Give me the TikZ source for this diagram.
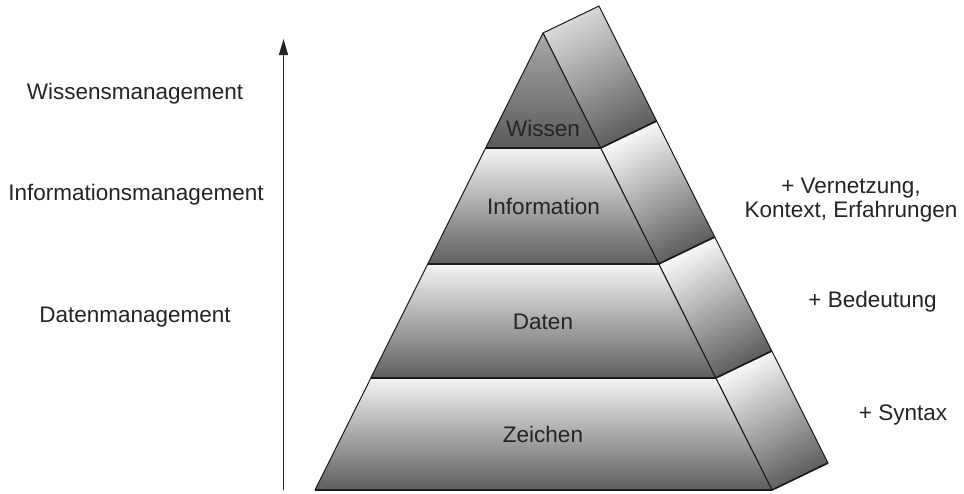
\documentclass[tikz,border=0pt]{standalone}
\usepackage{fontspec}
\setmainfont{Liberation Sans}
\usetikzlibrary{arrows.meta,calc}

\definecolor{ink}{HTML}{242424}
\definecolor{edge}{HTML}{1A1A1A}
\definecolor{facelight}{HTML}{F4F4F4}
\definecolor{facedark}{HTML}{5E5E5E}
\definecolor{tiplight}{HTML}{A8A8A8}
\definecolor{tipdark}{HTML}{5A5A5A}
\definecolor{sidelight}{HTML}{FAFAFA}
\definecolor{sidedark}{HTML}{5C5C5C}
\definecolor{sidetiplight}{HTML}{DADADA}

\tikzset{
  label/.style={font=\fontsize{22.5}{24.5}\selectfont, text=ink, inner sep=0pt, anchor=base},
  band/.style={top color=facelight, bottom color=facedark, draw=edge, line width=1pt, line join=round},
  tipband/.style={top color=tiplight, bottom color=tipdark, draw=edge, line width=1pt, line join=round},
  side/.style={top color=sidelight, bottom color=sidedark, shading angle=28, draw=edge, line width=1pt, line join=round},
  tipside/.style={top color=sidetiplight, bottom color=sidedark, shading angle=28, draw=edge, line width=1pt, line join=round},
  ledge/.style={draw=edge, line width=2.4pt},
  sedge/.style={draw=edge, line width=1.6pt},
  axis/.style={draw=ink, line width=1.4pt, -{Triangle[length=16pt,width=9pt]}},
}

\begin{document}
\begin{tikzpicture}[x=1pt, y=-1pt]
  \useasboundingbox (0,0) rectangle (964,493);

  % front face corners, level by level
  \coordinate (A0) at (543,33);
  \coordinate (L1) at (485.6,148);  \coordinate (R1) at (600.6,148);
  \coordinate (L2) at (427.7,264);  \coordinate (R2) at (658.7,264);
  \coordinate (L3) at (370.8,378);  \coordinate (R3) at (715.8,378);
  \coordinate (L4) at (315,490);    \coordinate (R4) at (772,490);

  % back edge of the side face
  \coordinate (B0) at ($(A0)+(56,-27)$);
  \coordinate (B1) at ($(R1)+(56,-27)$);
  \coordinate (B2) at ($(R2)+(56,-27)$);
  \coordinate (B3) at ($(R3)+(56,-27)$);
  \coordinate (B4) at ($(R4)+(56,-27)$);

  % side face
  \path[tipside] (A0) -- (B0) -- (B1) -- (R1) -- cycle;
  \path[side] (R1) -- (B1) -- (B2) -- (R2) -- cycle;
  \path[side] (R2) -- (B2) -- (B3) -- (R3) -- cycle;
  \path[side] (R3) -- (B3) -- (B4) -- (R4) -- cycle;
  \draw[sedge] (R1) -- (B1);
  \draw[sedge] (R2) -- (B2);
  \draw[sedge] (R3) -- (B3);
  \draw[sedge] (R4) -- (B4);

  % front face
  \path[tipband] (A0) -- (R1) -- (L1) -- cycle;
  \path[band] (L1) -- (R1) -- (R2) -- (L2) -- cycle;
  \path[band] (L2) -- (R2) -- (R3) -- (L3) -- cycle;
  \path[band] (L3) -- (R3) -- (R4) -- (L4) -- cycle;
  \draw[ledge] (L1) -- (R1);
  \draw[ledge] (L2) -- (R2);
  \draw[ledge] (L3) -- (R3);
  \draw[ledge] (L4) -- (R4);

  % level names
  \node[label] (wissen) at (543,136) {Wissen};
  \node[label] (information) at (543.5,214) {Information};
  \node[label] (daten) at (543,329) {Daten};
  \node[label] (zeichen) at (543,442) {Zeichen};

  % management levels
  \node[label] (wm) at (135,99) {Wissensmanagement};
  \node[label] (im) at (136,200.5) {Informationsmanagement};
  \node[label] (dm) at (135,322) {Datenmanagement};

  % additions per level
  \node[label] (vernetzung) at (851,193) {+ Vernetzung,};
  \node[label] (kontext) at (851,217) {Kontext, Erfahrungen};
  \node[label] (bedeutung) at (872.5,307) {+ Bedeutung};
  \node[label] (syntax) at (903,420) {+ Syntax};

  % upward axis
  \coordinate (axisfoot) at (283.5,490);
  \coordinate (axistip) at (283.5,39);
  \draw[axis] (axisfoot) -- (axistip);
\end{tikzpicture}
\end{document}
